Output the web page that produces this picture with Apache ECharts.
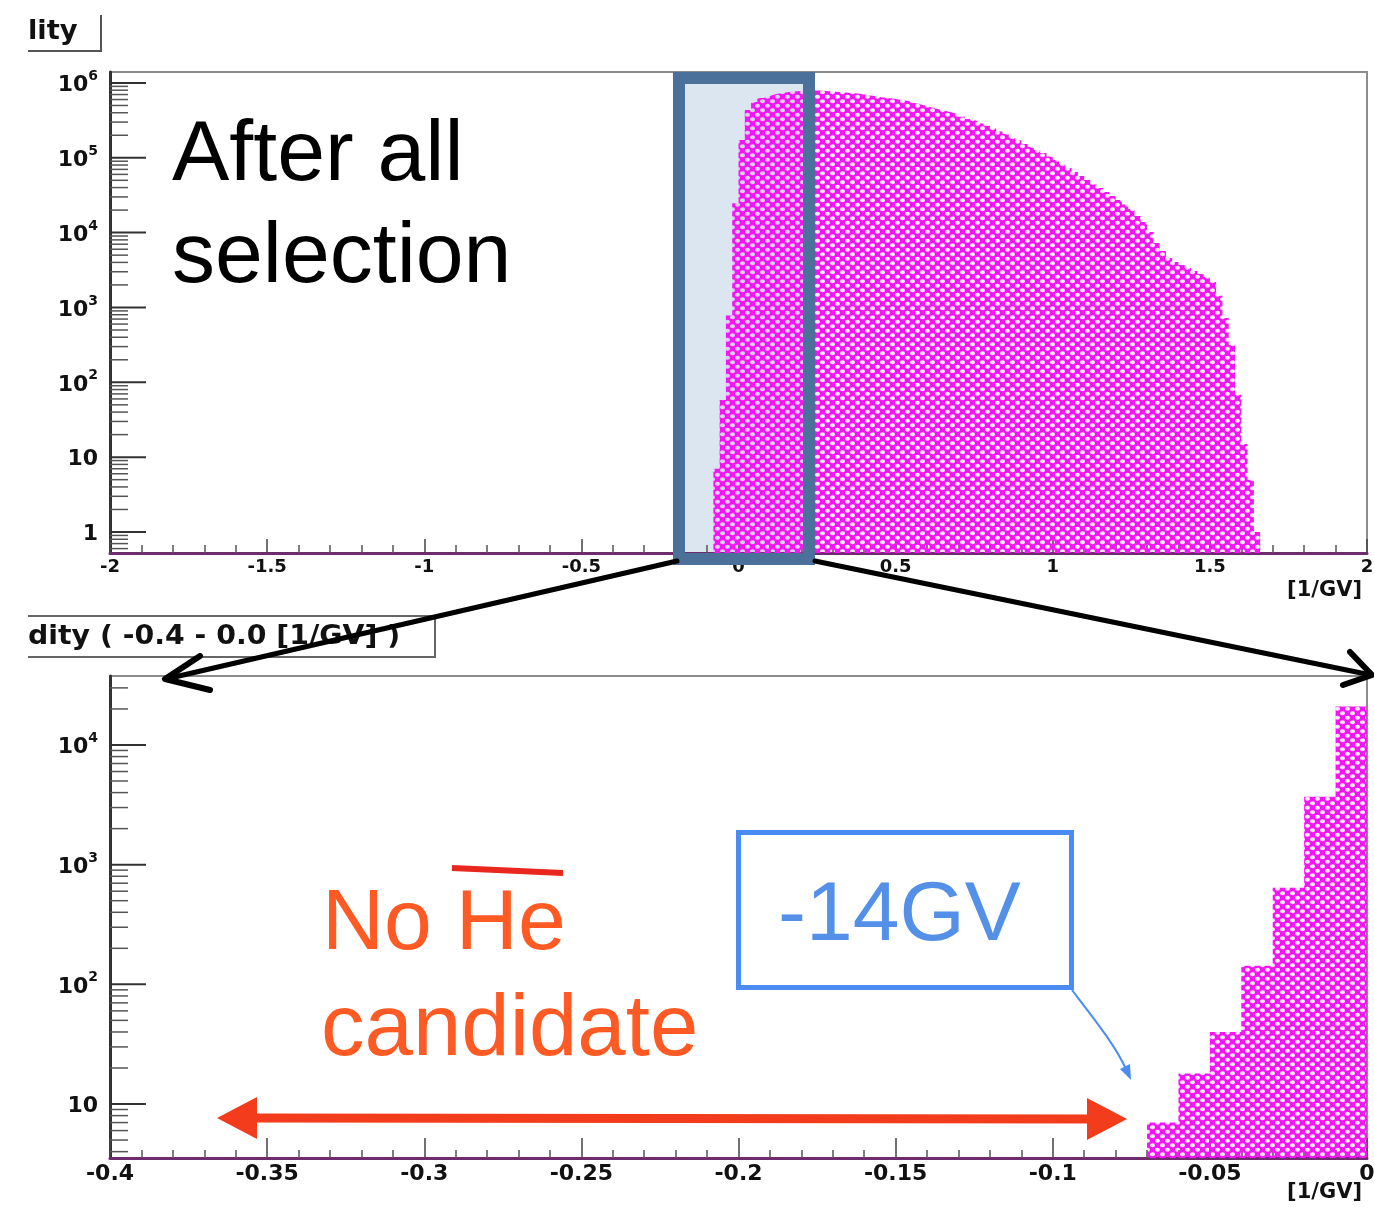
<!DOCTYPE html>
<html>
<head>
<meta charset="utf-8">
<title>Rigidity after all selection</title>
<script src="https://cdn.jsdelivr.net/npm/echarts@6/dist/echarts.min.js"></script>
<style>
  html, body { margin: 0; padding: 0; background: #ffffff; }
  #chart { width: 1374px; height: 1208px; }
</style>
</head>
<body>
<div id="chart"></div>
<script>
// ---- Full-range rigidity histogram: bins of 0.02 [1/GV] starting at -0.08 ----
const fullBinStart = -0.08;
const fullBinWidth = 0.02;
const fullCounts = [
  7, 58, 783, 24700, 173000, 436000, 557000, 631000, 671000, 713000,
  736000, 759000, 771000, 782000, 794000, 794000, 794000, 782000, 771000, 759000,
  747000, 736000, 725000, 703000, 681000, 661000, 640000, 631000, 611000, 593000,
  575000, 541000, 517000, 493000, 464000, 443000, 423000, 404000, 380000, 352000,
  330000, 311000, 288000, 267000, 247000, 225000, 208000, 187000, 171000, 153000,
  140000, 127000, 116000, 104000, 93600, 82700, 73100, 64700, 57100, 50600,
  44000, 39500, 34900, 30900, 27300, 23800, 20700, 16700, 13900, 10200,
  7280, 5690, 4590, 4060, 3700, 3370, 3080, 2800, 2560, 2190,
  1430, 724, 316, 68, 15, 5, 1
];

// ---- Zoomed histogram of the negative side: bins of 0.01 [1/GV] starting at -0.07 ----
const zoomBinStart = -0.07;
const zoomBinWidth = 0.01;
const zoomCounts = [7, 18, 40, 143, 640, 3700, 21000];

// ---- Axis ranges and tick settings ----
const fullXRange = [-2, 2];
const fullXStep = 0.5;
const fullYRange = [0.524, 1.40e6];
const fullDecades = [0, 1, 2, 3, 4, 5, 6];

const zoomXRange = [-0.4, 0];
const zoomXStep = 0.05;
const zoomYRange = [3.54, 37700];
const zoomDecades = [1, 2, 3, 4];

const axisUnit = '[1/GV]';
const fullTitle = 'lity';
const zoomTitle = 'dity ( -0.4 - 0.0 [1/GV] )';

// ---- helpers ----
// histogram outline as step points (left edges + closing right edge)
function stepPoints(start, width, counts) {
  const pts = counts.map((c, i) => [+(start + i * width).toFixed(4), c]);
  pts.push([+(start + counts.length * width).toFixed(4), counts[counts.length - 1]]);
  return pts;
}

// log-axis tick positions: 1..9 x 10^e inside the range
function logTicks(decades, range, xAt) {
  const out = [];
  const lo = decades[0] - 1, hi = decades[decades.length - 1];
  for (let e = lo; e <= hi; e++) {
    for (let k = 1; k <= 9; k++) {
      const v = k * Math.pow(10, e);
      if (v > range[0] && v < range[1]) out.push([xAt, v, k === 1 ? 1 : 0]);
    }
  }
  return out;
}

function tickRender(params, api) {
  const p = api.coord([api.value(0), api.value(1)]);
  const major = api.value(2) === 1;
  return {
    type: 'line',
    shape: { x1: p[0], y1: p[1], x2: p[0] + (major ? 36 : 18), y2: p[1] },
    style: { stroke: major ? '#333' : '#555', lineWidth: major ? 2 : 1.5 }
  };
}

function powLabel(v) {
  const e = Math.round(Math.log10(v));
  if (e === 0) return '{b|1}';
  if (e === 1) return '{b|10}';
  return '{b|10}{sup|' + e + '}';
}

// magenta cross-hatch fill tile with see-through holes
function hatchTile() {
  const c = document.createElement('canvas');
  c.width = 10; c.height = 9;
  const g = c.getContext('2d');
  g.fillStyle = '#f514f5';
  g.fillRect(0, 0, 10, 9);
  g.globalCompositeOperation = 'destination-out';
  g.fillStyle = 'rgba(0,0,0,0.9)';
  [[2.5, 2.25], [7.5, 6.75]].forEach(([x, y]) => {
    g.beginPath();
    g.ellipse(x, y, 2.5, 2.0, 0, 0, Math.PI * 2);
    g.fill();
  });
  return c;
}
const hatch = hatchTile();

const tickFont = 'DejaVu Sans';
const labelRich = {
  b: { fontFamily: tickFont, fontWeight: 'bold', fontSize: 22, color: '#111', lineHeight: 27, verticalAlign: 'bottom' },
  sup: { fontFamily: tickFont, fontWeight: 'bold', fontSize: 14, color: '#111', lineHeight: 14, verticalAlign: 'top' }
};

function xAxisCfg(gridIndex, range, step, labelSize, tickLen, nameTop) {
  return {
    gridIndex, type: 'value', min: range[0], max: range[1], interval: step,
    axisLine: { onZero: false, lineStyle: { color: '#6e2c6e', width: 3 } },
    axisTick: { inside: true, length: tickLen, lineStyle: { color: '#444', width: 1.5 } },
    minorTick: { show: true, splitNumber: 5, length: 8, lineStyle: { color: '#555', width: 1.5 } },
    splitLine: { show: false },
    axisLabel: { fontFamily: tickFont, fontWeight: 'bold', fontSize: labelSize, color: '#111', margin: 5 },
    name: axisUnit, nameLocation: 'end', nameGap: 0, nameMoveOverlap: false,
    nameTextStyle: { fontFamily: tickFont, fontWeight: 'bold', fontSize: 21, color: '#111',
      align: 'right', verticalAlign: 'top', padding: [nameTop, 5, 0, 0] }
  };
}

function yAxisCfg(gridIndex, range) {
  return {
    gridIndex, type: 'log', logBase: 10, min: range[0], max: range[1], splitNumber: 6,
    axisLine: { onZero: false, lineStyle: { color: '#333', width: 3 } },
    axisTick: { show: false },
    splitLine: { show: false },
    axisLabel: { formatter: powLabel, rich: labelRich, margin: 12, showMinLabel: false, showMaxLabel: false }
  };
}

const chart = echarts.init(document.getElementById('chart'), null, { renderer: 'canvas' });

chart.setOption({
  animation: false,
  backgroundColor: '#ffffff',
  grid: [
    { left: 110, right: 7, top: 72, bottom: 655, show: true, borderColor: '#8c8c8c', borderWidth: 2,
      containLabel: false, outerBoundsMode: 'none' },
    { left: 110, right: 7, top: 676, bottom: 50, show: true, borderColor: '#8c8c8c', borderWidth: 2,
      containLabel: false, outerBoundsMode: 'none' }
  ],
  xAxis: [
    xAxisCfg(0, fullXRange, fullXStep, 18, 14, 27),
    xAxisCfg(1, zoomXRange, zoomXStep, 22, 20, 24)
  ],
  yAxis: [
    yAxisCfg(0, fullYRange),
    yAxisCfg(1, zoomYRange)
  ],
  series: [
    {
      type: 'line', xAxisIndex: 0, yAxisIndex: 0, z: 2, silent: true,
      data: stepPoints(fullBinStart, fullBinWidth, fullCounts),
      step: 'end', symbol: 'none', clip: true,
      lineStyle: { width: 0, opacity: 0 },
      areaStyle: { color: { image: hatch, repeat: 'repeat' }, opacity: 1, origin: 'start' }
    },
    {
      type: 'line', xAxisIndex: 1, yAxisIndex: 1, z: 2, silent: true,
      data: stepPoints(zoomBinStart, zoomBinWidth, zoomCounts),
      step: 'end', symbol: 'none', clip: true,
      lineStyle: { width: 0, opacity: 0 },
      areaStyle: { color: { image: hatch, repeat: 'repeat' }, opacity: 1, origin: 'start' }
    },
    {
      type: 'custom', xAxisIndex: 0, yAxisIndex: 0, z: 3, silent: true,
      data: logTicks(fullDecades, fullYRange, fullXRange[0]), renderItem: tickRender
    },
    {
      type: 'custom', xAxisIndex: 1, yAxisIndex: 1, z: 3, silent: true,
      data: logTicks(zoomDecades, zoomYRange, zoomXRange[0]), renderItem: tickRender
    }
  ],
  graphic: {
    elements: [
      // histogram titles (cropped boxes)
      { type: 'polyline', z: 5, silent: true, shape: { points: [[28, 51], [101, 51], [101, 15]] },
        style: { stroke: '#555', lineWidth: 2, fill: null } },
      { type: 'text', z: 5, silent: true, x: 28, y: 32, scaleX: 1.05,
        style: { text: fullTitle, x: 0, y: 0, font: 'bold 26px "DejaVu Sans", sans-serif', fill: '#111',
          verticalAlign: 'middle', textVerticalAlign: 'middle' } },
      { type: 'polyline', z: 5, silent: true, shape: { points: [[28, 616], [435, 616], [435, 657], [28, 657]] },
        style: { stroke: '#666', lineWidth: 2, fill: null } },
      { type: 'text', z: 5, silent: true, x: 28, y: 637, scaleX: 1.09,
        style: { text: zoomTitle, x: 0, y: 0, font: 'bold 26px "DejaVu Sans", sans-serif', fill: '#111',
          verticalAlign: 'middle', textVerticalAlign: 'middle' } },

      // highlighted window on the full-range plot
      { type: 'rect', z: -1, silent: true, shape: { x: 679, y: 78, width: 130, height: 481 },
        style: { fill: '#dce6f1' } },
      { type: 'rect', z: 20, silent: true, shape: { x: 679, y: 78, width: 130, height: 481 },
        style: { fill: null, stroke: '#4b7099', lineWidth: 12 } },

      // zoom arrows
      { type: 'line', z: 21, silent: true, shape: { x1: 677, y1: 561, x2: 166, y2: 679 },
        style: { stroke: '#000', lineWidth: 5, lineCap: 'round' } },
      { type: 'polyline', z: 21, silent: true, shape: { points: [[200, 656], [165, 679], [210, 690]] },
        style: { stroke: '#000', lineWidth: 6, fill: null, lineCap: 'round', lineJoin: 'round' } },
      { type: 'line', z: 21, silent: true, shape: { x1: 815, y1: 561, x2: 1371, y2: 675 },
        style: { stroke: '#000', lineWidth: 5, lineCap: 'round' } },
      { type: 'polyline', z: 21, silent: true, shape: { points: [[1350, 652], [1372, 675], [1343, 685]] },
        style: { stroke: '#000', lineWidth: 6, fill: null, lineCap: 'round', lineJoin: 'round' } },

      // headline
      { type: 'text', z: 22, silent: true,
        style: { text: 'After all', x: 172, y: 156, font: '86px "Liberation Sans", Arial, sans-serif', fill: '#000',
          verticalAlign: 'middle', textVerticalAlign: 'middle' } },
      { type: 'text', z: 22, silent: true,
        style: { text: 'selection', x: 172, y: 258, font: '86px "Liberation Sans", Arial, sans-serif', fill: '#000',
          verticalAlign: 'middle', textVerticalAlign: 'middle' } },

      // anti-helium note
      { type: 'text', z: 22, silent: true,
        style: { text: 'No He', x: 322, y: 925, font: '86px "Liberation Sans", Arial, sans-serif', fill: '#ff5a24',
          verticalAlign: 'middle', textVerticalAlign: 'middle' } },
      { type: 'line', z: 22, silent: true, shape: { x1: 452, y1: 868, x2: 563, y2: 873 },
        style: { stroke: '#e8281e', lineWidth: 6 } },
      { type: 'text', z: 22, silent: true,
        style: { text: 'candidate', x: 321, y: 1031, font: '87px "Liberation Sans", Arial, sans-serif', fill: '#ff5a24',
          verticalAlign: 'middle', textVerticalAlign: 'middle' } },

      // -14GV callout
      { type: 'rect', z: 22, silent: true, shape: { x: 738.5, y: 832.5, width: 333, height: 155 },
        style: { fill: null, stroke: '#4a8cf3', lineWidth: 5 } },
      { type: 'text', z: 22, silent: true,
        style: { text: '-14GV', x: 778, y: 917, font: '84px "Liberation Sans", Arial, sans-serif', fill: '#5590e8',
          verticalAlign: 'middle', textVerticalAlign: 'middle' } },
      { type: 'bezierCurve', z: 22, silent: true,
        shape: { x1: 1072, y1: 990, x2: 1126, y2: 1069, cpx1: 1095, cpy1: 1020, cpx2: 1115, cpy2: 1045 },
        style: { stroke: '#4a8cf3', lineWidth: 2, fill: null } },
      { type: 'polygon', z: 22, silent: true, shape: { points: [[1131, 1080], [1130, 1064], [1120, 1069]] },
        style: { fill: '#4a8cf3' } },

      // excluded range double arrow
      { type: 'line', z: 22, silent: true, shape: { x1: 250, y1: 1118, x2: 1092, y2: 1119 },
        style: { stroke: '#f23c1c', lineWidth: 9 } },
      { type: 'polygon', z: 22, silent: true, shape: { points: [[217, 1118], [257, 1097], [257, 1139]] },
        style: { fill: '#f23c1c' } },
      { type: 'polygon', z: 22, silent: true, shape: { points: [[1127, 1119], [1087, 1098], [1087, 1140]] },
        style: { fill: '#f23c1c' } }
    ]
  }
});
</script>
</body>
</html>
